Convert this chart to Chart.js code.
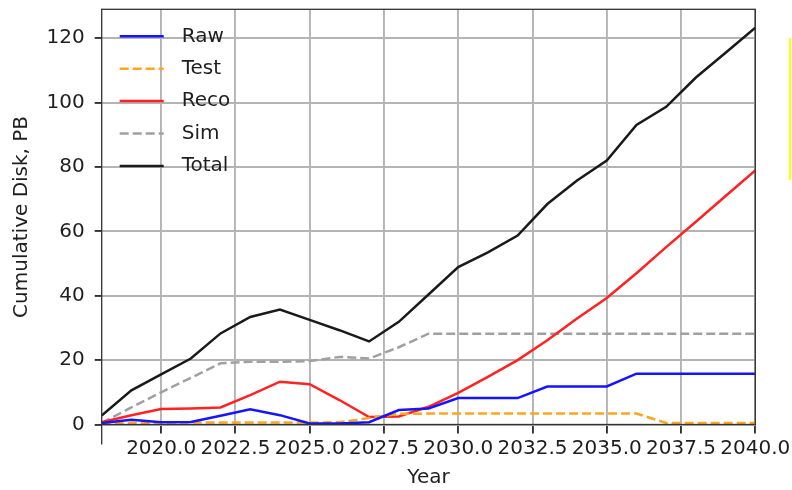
<!DOCTYPE html>
<html>
<head>
<meta charset="utf-8">
<script src="https://cdn.jsdelivr.net/npm/chart.js@4.4.1/dist/chart.umd.min.js"></script>
<style>
  html, body { margin: 0; padding: 0; background: #fff; }
  #wrap { position: relative; width: 792px; height: 490px; }
  #geel { position: absolute; left: 789px; top: 38px; width: 2px; height: 142px; background: #ffff00; }
</style>
</head>
<body>
<div id="wrap">
  <canvas id="grafiek" width="792" height="490"></canvas>
  <div id="geel"></div>
</div>
<script>
// data (PB, cumulatief per jaar)
const years = [2018, 2019, 2020, 2021, 2022, 2023, 2024, 2025, 2026, 2027, 2028, 2029,
               2030, 2031, 2032, 2033, 2034, 2035, 2036, 2037, 2038, 2039, 2040];
const raw   = [0.5, 1.5, 0.7, 0.8, 2.7, 4.7, 2.9, 0.3, 0.3, 0.7, 4.5, 5.0,
               8.2, 8.2, 8.2, 11.8, 11.8, 11.8, 15.8, 15.8, 15.8, 15.8, 15.8];
const test  = [0.3, 0.5, 0.6, 0.6, 0.6, 0.6, 0.6, 0.6, 0.7, 2.0, 3.3, 3.4,
               3.4, 3.4, 3.4, 3.4, 3.4, 3.4, 3.4, 0.5, 0.5, 0.5, 0.5];
const reco  = [0.7, 2.9, 4.8, 5.0, 5.3, 9.1, 13.3, 12.5, 7.6, 2.3, 2.5, 5.5,
               9.8, 14.8, 20.0, 26.2, 32.9, 39.3, 47.0, 55.1, 63.0, 71.0, 78.9];
const sim   = [0.5, 5.3, 10.0, 14.5, 19.0, 19.5, 19.5, 19.7, 21.0, 20.5, 24.0, 28.2,
               28.2, 28.2, 28.2, 28.2, 28.2, 28.2, 28.2, 28.2, 28.2, 28.2, 28.2];
const total = [2.8, 10.6, 15.6, 20.5, 28.3, 33.4, 35.7, 32.5, 29.3, 25.8, 31.9, 40.4,
               48.9, 53.5, 58.7, 68.5, 75.8, 82.0, 93.1, 98.7, 107.8, 115.5, 123.3];

const xTicks = [2020.0, 2022.5, 2025.0, 2027.5, 2030.0, 2032.5, 2035.0, 2037.5, 2040.0];
const yTicks = [0, 20, 40, 60, 80, 100, 120];

const font = 'DejaVu Sans';
const tekst = '#1e1e1e';
const lijn = 2.5;

const reeks = (label, values, color, dash) => ({
  label: label,
  data: years.map((j, i) => ({ x: j, y: values[i] })),
  borderColor: color,
  backgroundColor: color,
  borderWidth: lijn,
  borderDash: dash,
  pointRadius: 0,
  tension: 0,
  fill: false
});

// kader + legenda in het plotvlak
const kader = {
  id: 'kader',
  afterDraw(chart) {
    const { ctx, chartArea: a } = chart;
    ctx.save();
    ctx.strokeStyle = '#333';
    ctx.lineWidth = 1.3;
    ctx.strokeRect(a.left, a.top, a.right - a.left, a.bottom - a.top);
    ctx.beginPath();
    ctx.moveTo(a.left, a.bottom);
    ctx.lineTo(a.left, a.bottom + 20);
    ctx.stroke();

    ctx.font = '20px "' + font + '"';
    ctx.textBaseline = 'middle';
    ctx.fillStyle = tekst;
    chart.data.datasets.forEach((ds, i) => {
      const y = a.top + 27 + i * 32.4;
      ctx.beginPath();
      ctx.strokeStyle = ds.borderColor;
      ctx.lineWidth = lijn;
      ctx.setLineDash(ds.borderDash || []);
      ctx.moveTo(a.left + 18, y);
      ctx.lineTo(a.left + 62, y);
      ctx.stroke();
      ctx.setLineDash([]);
      ctx.fillText(ds.label, a.left + 80, y);
    });
    ctx.restore();
  }
};

const ctx = document.getElementById('grafiek').getContext('2d');

new Chart(ctx, {
  type: 'line',
  data: {
    datasets: [
      reeks('Raw', raw, '#1414ff', []),
      reeks('Test', test, '#ffa51e', [9, 4]),
      reeks('Reco', reco, '#ff2222', []),
      reeks('Sim', sim, '#a0a0a0', [9, 4]),
      reeks('Total', total, '#1a1a1a', [])
    ]
  },
  options: {
    responsive: false,
    animation: false,
    devicePixelRatio: 1,
    layout: { padding: { left: 0, right: 36.7, top: 9.3, bottom: 0 } },
    plugins: {
      legend: { display: false },
      tooltip: { enabled: false }
    },
    scales: {
      x: {
        type: 'linear',
        min: 2018,
        max: 2040,
        afterBuildTicks: scale => { scale.ticks = xTicks.map(v => ({ value: v })); },
        afterFit: scale => {
          scale.height = 65.5;
          scale.paddingLeft = 0;
          scale.paddingRight = 0;
        },
        ticks: {
          autoSkip: false,
          maxRotation: 0,
          minRotation: 0,
          padding: 3,
          color: tekst,
          font: { family: font, size: 20 },
          callback: v => v.toFixed(1)
        },
        grid: { color: '#b4b4b4', lineWidth: 1.9, tickColor: '#333', tickLength: 9 },
        border: { display: false },
        title: {
          display: true,
          text: 'Year',
          color: tekst,
          font: { family: font, size: 20 },
          padding: { top: 0, bottom: 0 }
        }
      },
      y: {
        min: 0,
        max: 129,
        afterBuildTicks: scale => { scale.ticks = yTicks.map(v => ({ value: v })); },
        afterFit: scale => {
          scale.width = 101.7;
          scale.paddingTop = 0;
          scale.paddingBottom = 0;
        },
        ticks: {
          padding: 10,
          color: tekst,
          font: { family: font, size: 20 }
        },
        grid: { color: '#b4b4b4', lineWidth: 1.9, tickColor: '#333', tickLength: 7 },
        border: { display: false },
        title: {
          display: true,
          text: 'Cumulative Disk, PB',
          color: tekst,
          font: { family: font, size: 20 },
          padding: { top: 10, bottom: 0 }
        }
      }
    }
  },
  plugins: [kader]
});
</script>
</body>
</html>
